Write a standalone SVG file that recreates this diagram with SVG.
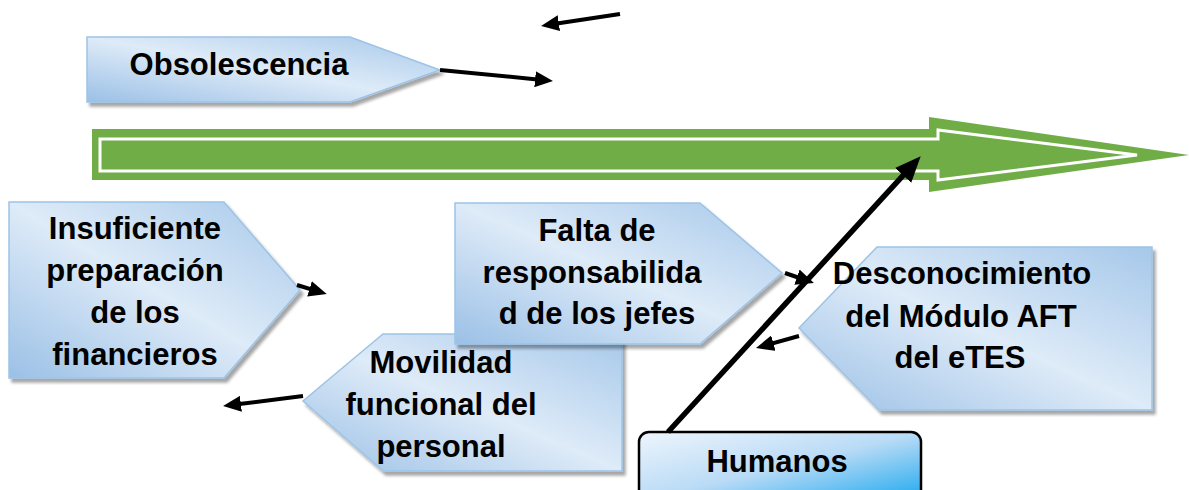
<svg xmlns="http://www.w3.org/2000/svg" width="1189" height="490" viewBox="0 0 1189 490">
<defs>
<linearGradient id="gBlue" x1="0" y1="1" x2="1" y2="0">
<stop offset="0" stop-color="#9bc0e6"/>
<stop offset="0.5" stop-color="#deebf8"/>
<stop offset="1" stop-color="#a6c8ea"/>
</linearGradient>
<linearGradient id="gHum" x1="0" y1="0" x2="1" y2="1">
<stop offset="0" stop-color="#eef5fc"/>
<stop offset="0.5" stop-color="#b9dbf6"/>
<stop offset="1" stop-color="#1aa8ee"/>
</linearGradient>
<filter id="sh" x="-10%" y="-10%" width="130%" height="140%">
<feDropShadow dx="3" dy="4" stdDeviation="1.5" flood-color="#000" flood-opacity="0.35"/>
</filter>
<marker id="ah" markerUnits="userSpaceOnUse" markerWidth="18" markerHeight="16" refX="12" refY="8" orient="auto">
<path d="M0,0 L18,8 L0,16 Z" fill="#000"/>
</marker>
<marker id="ahBig" markerUnits="userSpaceOnUse" markerWidth="26" markerHeight="22" refX="17" refY="11" orient="auto">
<path d="M0,0 L26,11 L0,22 Z" fill="#000"/>
</marker>
</defs>
<style>
.box{fill:url(#gBlue);stroke:#9dc3e6;stroke-width:1.5;filter:url(#sh);}
.t{font-family:"Liberation Sans",Arial,sans-serif;font-weight:bold;font-size:31px;fill:#000;text-anchor:middle;}
.c{stroke:#000;stroke-width:4;fill:none;marker-end:url(#ah);}
</style>

<g id="main-arrow">
<polygon points="92,129 929,129 929,117 1189,155 929,192 929,180 92,180" fill="#70ad47"/>
<polygon points="100,139 938,139 938,130 1137,155 938,180 938,171 100,171" fill="#70ad47" stroke="#ffffff" stroke-width="3"/>
</g>

<g id="node-obsolescencia">
<polygon class="box" points="87,37 350,37 440,70 350,102 87,102"/>
<text class="t" x="239" y="75">Obsolescencia</text>
</g>

<g id="node-insuficiente">
<polygon class="box" points="9,202 224,202 300,290 224,378 9,378"/>
<text class="t" x="135" y="239">Insuficiente</text>
<text class="t" x="135" y="281">preparación</text>
<text class="t" x="135" y="323">de los</text>
<text class="t" x="135" y="365">financieros</text>
</g>

<g id="node-movilidad">
<polygon class="box" points="383,334 622,334 622,471 383,471 303,401"/>
<text class="t" x="441" y="373">Movilidad</text>
<text class="t" x="441" y="415">funcional del</text>
<text class="t" x="441" y="457">personal</text>
</g>

<g id="node-falta">
<polygon class="box" points="455,203 700,203 782,273 700,344 455,344"/>
<text class="t" x="597" y="241">Falta de</text>
<text class="t" x="592" y="283">responsabilida</text>
<text class="t" x="597" y="324">d de los jefes</text>
</g>

<g id="node-desconocimiento">
<polygon class="box" points="877,247 1152,247 1152,410 879,410 799,328"/>
<text class="t" x="962" y="284">Desconocimiento</text>
<text class="t" x="961" y="327">del Módulo AFT</text>
<text class="t" x="960" y="368">del eTES</text>
</g>

<g id="node-humanos">
<rect x="639" y="432" width="282" height="70" rx="10" ry="10" fill="url(#gHum)" stroke="#000" stroke-width="2.5"/>
<text class="t" x="777" y="472">Humanos</text>
</g>

<g id="connectors">
<line class="c" x1="620" y1="14" x2="547" y2="25"/>
<line class="c" x1="440" y1="70" x2="547" y2="80.4"/>
<line class="c" x1="297" y1="285" x2="321" y2="292.3"/>
<line class="c" x1="785" y1="273" x2="808.3" y2="281"/>
<line class="c" x1="303" y1="396" x2="229" y2="405.3"/>
<line class="c" x1="799" y1="336" x2="761.8" y2="346.4"/>
<line x1="668" y1="432" x2="914.6" y2="162.9" stroke="#000" stroke-width="5.5" marker-end="url(#ahBig)"/>
</g>
</svg>
